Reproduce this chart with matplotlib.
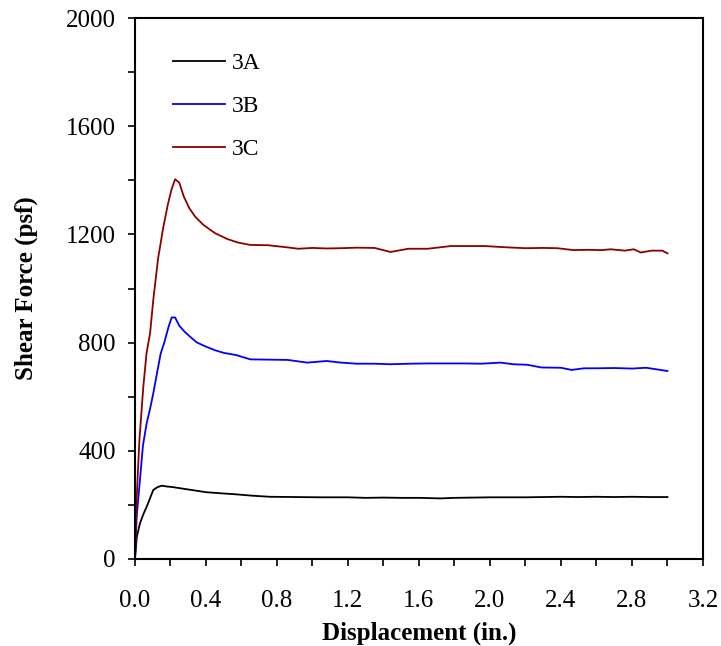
import numpy as np
import matplotlib
matplotlib.use('Agg')
import matplotlib.pyplot as plt
from matplotlib.ticker import MultipleLocator

x_3a = [0, 0.01, 0.028, 0.05, 0.066, 0.085, 0.103, 0.125, 0.15, 0.18, 0.21, 0.25,
        0.29, 0.35, 0.40, 0.48, 0.57, 0.66, 0.76, 0.9, 1.05, 1.2, 1.3, 1.4, 1.5,
        1.6, 1.72, 1.8, 1.9, 2.0, 2.1, 2.2, 2.3, 2.4, 2.5, 2.6, 2.7, 2.8, 2.9, 3.0]
y_3a = [0, 80, 132, 170, 193, 225, 255, 265, 271, 268, 266, 262,
        258, 252, 247, 243, 239, 234, 230, 229, 228, 228, 226, 227, 226,
        226, 224, 226, 227, 228, 228, 228, 229, 230, 229, 230, 229, 230, 229, 229]

x_3b = [0, 0.01, 0.028, 0.045, 0.066, 0.085, 0.103, 0.125, 0.145, 0.165, 0.19,
        0.207, 0.226, 0.25, 0.28, 0.31, 0.35, 0.40, 0.45, 0.50, 0.57, 0.65, 0.75,
        0.86, 0.97, 1.08, 1.16, 1.25, 1.35, 1.44, 1.55, 1.65, 1.75, 1.85, 1.95,
        2.06, 2.13, 2.21, 2.29, 2.40, 2.46, 2.53, 2.6, 2.7, 2.8, 2.88, 2.95, 3.0]
y_3b = [0, 160, 292, 420, 502, 555, 612, 690, 760, 800, 860,
        893, 893, 862, 840, 822, 800, 785, 772, 762, 754, 738, 737,
        736, 726, 732, 726, 722, 722, 720, 722, 723, 723, 723, 722,
        726, 720, 718, 708, 707, 699, 705, 705, 706, 704, 707, 700, 695]

x_3c = [0, 0.01, 0.025, 0.047, 0.065, 0.085, 0.103, 0.13, 0.16, 0.185, 0.205,
        0.226, 0.25, 0.275, 0.307, 0.34, 0.386, 0.45, 0.52, 0.58, 0.65, 0.75,
        0.86, 0.92, 1.0, 1.08, 1.16, 1.25, 1.35, 1.44, 1.54, 1.65, 1.78, 1.9,
        1.97, 2.1, 2.2, 2.3, 2.38, 2.47, 2.55, 2.63, 2.68, 2.76, 2.81, 2.85,
        2.91, 2.97, 3.0]
y_3c = [0, 230, 440, 637, 760, 834, 957, 1110, 1228, 1310, 1364,
        1404, 1391, 1340, 1296, 1265, 1235, 1205, 1183, 1170, 1161, 1160,
        1152, 1147, 1150, 1148, 1149, 1151, 1150, 1135, 1147, 1147, 1157, 1157,
        1157, 1152, 1149, 1150, 1149, 1142, 1143, 1142, 1145, 1140, 1145, 1133,
        1140, 1140, 1130]

plt.rcParams['font.family'] = ['Liberation Serif', 'DejaVu Serif']

fig = plt.figure(figsize=(7.21, 6.46), dpi=100)
ax = fig.add_axes([0.1872, 0.1347, 0.7878, 0.8374])

ax.plot(x_3a, y_3a, color='black', lw=1.3, label='3A')
ax.plot(x_3b, y_3b, color='#0000ff', lw=1.3, label='3B')
ax.plot(x_3c, y_3c, color='#8b0000', lw=1.3, label='3C')

ax.set_xlim(0, 3.2)
ax.set_ylim(0, 2000)
ax.xaxis.set_major_locator(MultipleLocator(0.4))
ax.xaxis.set_minor_locator(MultipleLocator(0.2))
ax.yaxis.set_major_locator(MultipleLocator(400))
ax.yaxis.set_minor_locator(MultipleLocator(200))
ax.tick_params(which='both', direction='out', length=5, width=1.2, labelsize=18)
ax.tick_params(axis='x', which='major', pad=17)
ax.tick_params(axis='y', which='major', pad=9)
ax.xaxis.set_major_formatter(plt.FuncFormatter(lambda v, p: f'{v:.1f}'))
for s in ax.spines.values():
    s.set_linewidth(1.5)

ax.set_xlabel('Displacement (in.)', fontsize=18, fontweight='bold', labelpad=7)
ax.set_ylabel('Shear Force (psf)', fontsize=18, fontweight='bold', labelpad=20)

ax.legend(loc='upper left', bbox_to_anchor=(0.03, 0.975), frameon=False,
          fontsize=17, handlelength=2.2, handletextpad=0.3, labelspacing=0.9)

plt.savefig('out.png', dpi=100)
plt.close()
